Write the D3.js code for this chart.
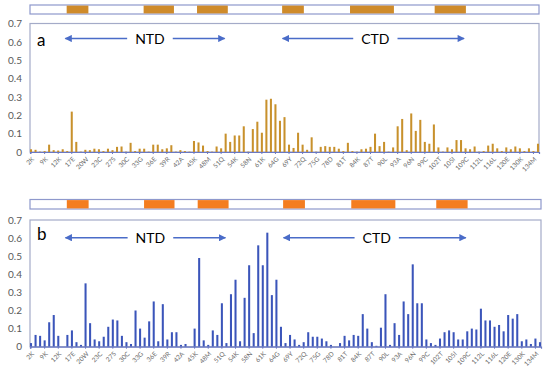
<!DOCTYPE html>
<html>
<head>
<meta charset="utf-8">
<script src="https://cdn.jsdelivr.net/npm/d3@7"></script>
<style>
  body { margin: 0; background: #fff; }
  svg { display: block; font-family: Lato, "Open Sans", sans-serif; }
</style>
</head>
<body>
<div id="wrapper"></div>
<script>
// Tick labels, one for every third bar
const tickLabels = ["2K","9K","12K","17E","20W","23C","27S","30C","33G","36E","39R","42A",
  "45K","48M","51Q","54K","58N","61K","64G","69Y","72Q","75G","78D","81T","84K","87T",
  "90L","93A","96N","99C","102T","105I","109C","112L","116L","120E","130K","134M"]

// Panel a values (orange bars)
const valuesA = [0.015,0.012,0.002,0.005,0.04,0.01,0.008,0.015,0.005,0.22,
  0.055,0.002,0.012,0.01,0.018,0.015,0.005,0.018,0.01,0.028,
  0.03,0.002,0.05,0.005,0.018,0.018,0.002,0.04,0.04,0.015,
  0.02,0.037,0.002,0.01,0.005,0.002,0.06,0.052,0.035,0.005,
  0.002,0.03,0.02,0.1,0.055,0.09,0.09,0.14,0.002,0.125,
  0.165,0.105,0.285,0.29,0.26,0.17,0.19,0.04,0.022,0.105,
  0.04,0.012,0.08,0.002,0.028,0.032,0.028,0.028,0.018,0.005,
  0.05,0.005,0.002,0.015,0.018,0.028,0.1,0.032,0.055,0.002,
  0.025,0.14,0.18,0.01,0.21,0.115,0.175,0.055,0.045,0.15,
  0.025,0.002,0.025,0.015,0.065,0.065,0.02,0.015,0.03,0.002,
  0.005,0.035,0.045,0.02,0.005,0.025,0.015,0.03,0.02,0.005,
  0.02,0.005,0.045]

// Panel b values (blue bars)
const valuesB = [0.02,0.065,0.06,0.035,0.135,0.175,0.06,0,0.065,0.09,
  0.025,0.01,0.35,0.13,0.04,0.03,0.055,0.11,0.15,0.145,
  0.06,0.025,0.015,0.2,0.1,0.05,0.14,0.25,0.03,0.235,
  0.04,0.08,0.08,0.01,0.015,0,0.1,0.49,0.035,0.01,
  0.09,0.065,0.24,0.02,0.29,0.37,0.03,0.27,0.45,0.075,
  0.56,0.45,0.63,0.285,0.37,0.11,0.02,0.065,0.04,0.01,
  0.025,0.08,0.055,0.055,0.045,0.03,0.01,0,0.02,0.06,
  0.035,0.065,0.06,0.18,0.1,0.025,0.005,0.105,0.29,0.01,
  0.13,0.065,0.25,0.18,0.455,0.24,0.24,0.04,0.02,0.01,
  0.045,0.08,0.09,0.08,0.04,0.04,0.085,0.1,0.095,0.21,
  0.145,0.145,0.11,0.12,0.085,0.175,0.155,0.18,0.03,0.04,
  0.015,0.045,0.025]

// Highlighted stretches in the top strip, in bar units
const segments = [[8.1,12.9],[25.1,31.8],[36.9,43.7],[55.7,60.5],[70.7,80.4],[89.4,96.3]]

// Domain arrows, in bar units
const domains = [
  {label: "NTD", start: 7.8, end: 43, textAt: 26.5},
  {label: "CTD", start: 55.8, end: 95.9, textAt: 76.3},
]

const yTicks = [0, 0.1, 0.2, 0.3, 0.4, 0.5, 0.6, 0.7]

const panels = [
  {name: "a", values: valuesA, bar: "#c8912c", seg: "#cf8b2a",
   left: 30, right: 539, top: 23.5, bottom: 152, stripTop: 5, stripBottom: 14, letterY: 46, arrowY: 38.5},
  {name: "b", values: valuesB, bar: "#3b55ba", seg: "#f47d20",
   left: 30, right: 541, top: 220, bottom: 346.7, stripTop: 199.5, stripBottom: 209, letterY: 240, arrowY: 237.7},
]

const svg = d3.select("#wrapper")
  .append("svg")
    .attr("width", 550)
    .attr("height", 376)

const defs = svg.append("defs")
defs.append("marker")
    .attr("id", "head")
    .attr("viewBox", "0 0 10 10")
    .attr("refX", 9)
    .attr("refY", 5)
    .attr("markerWidth", 5)
    .attr("markerHeight", 4.5)
    .attr("orient", "auto-start-reverse")
  .append("path")
    .attr("d", "M0,0 L10,5 L0,10 Z")
    .attr("fill", "#4a6cc8")

panels.forEach(p => {
  const g = svg.append("g")

  const xScale = d3.scaleBand()
    .domain(d3.range(p.values.length))
    .range([p.left, p.right])
    .paddingInner(0.55)
  const step = xScale.step()
  const xPos = v => p.left + v * step

  const yScale = d3.scaleLinear()
    .domain([0, 0.7])
    .range([p.bottom, p.top])

  // top strip
  g.append("rect")
    .attr("x", p.left)
    .attr("y", p.stripTop)
    .attr("width", p.right - p.left)
    .attr("height", p.stripBottom - p.stripTop)
    .attr("fill", "#fff")
    .attr("stroke", "#8e98cc")
    .attr("stroke-width", 1.2)
  g.selectAll(".seg")
    .data(segments)
    .join("rect")
      .attr("x", d => xPos(d[0]))
      .attr("y", p.stripTop + 0.6)
      .attr("width", d => xPos(d[1]) - xPos(d[0]))
      .attr("height", p.stripBottom - p.stripTop - 1.2)
      .attr("fill", p.seg)

  // plot frame
  g.append("rect")
    .attr("x", p.left)
    .attr("y", p.top)
    .attr("width", p.right - p.left)
    .attr("height", p.bottom - p.top)
    .attr("fill", "none")
    .attr("stroke", "#a4abc8")
    .attr("stroke-width", 1.2)

  // bars
  g.selectAll(".bar")
    .data(p.values)
    .join("rect")
      .attr("x", (d, i) => xScale(i))
      .attr("y", d => yScale(d))
      .attr("width", xScale.bandwidth())
      .attr("height", d => p.bottom - yScale(d))
      .attr("fill", p.bar)

  // y axis
  const yAxis = g.append("g")
    .attr("transform", `translate(${p.left},0)`)
    .call(d3.axisLeft(yScale)
      .tickValues(yTicks)
      .tickSize(0)
      .tickPadding(8)
      .tickFormat(d => d === 0 ? "0" : d3.format(".1f")(d)))
  yAxis.select(".domain").remove()
  yAxis.selectAll("text")
    .attr("fill", "#595959")
    .style("font-size", "10px")
    .style("font-family", "Lato, sans-serif")

  // x axis
  const xAxis = g.append("g")
    .attr("transform", `translate(0,${p.bottom})`)
    .call(d3.axisBottom(xScale)
      .tickValues(d3.range(0, p.values.length, 3).slice(0, tickLabels.length))
      .tickSize(2)
      .tickFormat(i => tickLabels[i / 3]))
  xAxis.select(".domain").attr("stroke", "#6a78c2").attr("stroke-width", 1.2)
  xAxis.selectAll(".tick line").attr("stroke", "#6a78c2")
  xAxis.selectAll("text")
    .attr("fill", "#6b6b6b")
    .style("font-size", "6.5px")
    .style("font-family", "Lato, sans-serif")
    .attr("text-anchor", "end")
    .attr("x", 0)
    .attr("y", 0)
    .attr("dy", "0.35em")
    .attr("transform", "translate(2,6) rotate(-45)")

  // panel letter
  g.append("text")
    .attr("x", p.left + 7)
    .attr("y", p.letterY)
    .attr("font-size", 17)
    .attr("fill", "#000")
    .text(p.name)

  // domain arrows
  domains.forEach(d => {
    const cx = xPos(d.textAt)
    const label = g.append("text")
      .attr("x", cx)
      .attr("y", p.arrowY + 5)
      .attr("text-anchor", "middle")
      .attr("font-size", 14)
      .attr("fill", "#000")
      .text(d.label)
    const half = label.node().getComputedTextLength() / 2
    g.append("line")
      .attr("x1", cx - half - 8)
      .attr("x2", xPos(d.start))
      .attr("y1", p.arrowY).attr("y2", p.arrowY)
      .attr("stroke", "#4a6cc8")
      .attr("stroke-width", 1.6)
      .attr("marker-end", "url(#head)")
    g.append("line")
      .attr("x1", cx + half + 8)
      .attr("x2", xPos(d.end))
      .attr("y1", p.arrowY).attr("y2", p.arrowY)
      .attr("stroke", "#4a6cc8")
      .attr("stroke-width", 1.6)
      .attr("marker-end", "url(#head)")
  })
})
</script>
</body>
</html>
